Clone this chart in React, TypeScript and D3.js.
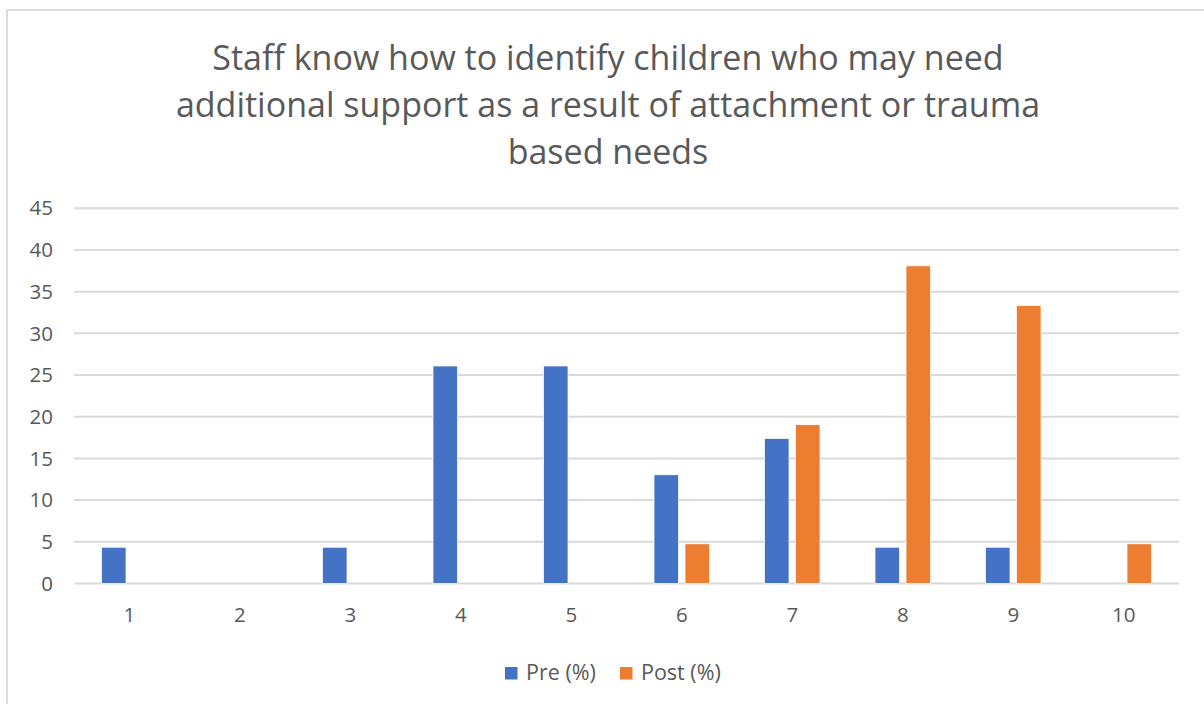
import React from "react";
import * as d3 from "d3";

const titleLines = [
  "Staff know how to identify children who may need",
  "additional support as a result of attachment or trauma",
  "based needs",
];
const categories = ["1", "2", "3", "4", "5", "6", "7", "8", "9", "10"];
const preValues = [4.35, 0, 4.35, 26.09, 26.09, 13.04, 17.39, 4.35, 4.35, 0];
const postValues = [0, 0, 0, 0, 0, 4.76, 19.05, 38.1, 33.33, 4.76];
const yTicks = [0, 5, 10, 15, 20, 25, 30, 35, 40, 45];
const seriesNames = ["Pre (%)", "Post (%)"];
const seriesColors = ["#4472C4", "#ED7D31"];

const W = 1204;
const H = 704;
const FONT = "'Open Sans', 'Noto Sans', sans-serif";
const TEXT = "#595959";

export default function App() {
  const plotLeft = 74;
  const plotRight = 1179;
  const plotTop = 208.3;
  const plotBottom = 583.5;

  const x = d3.scaleBand<string>().domain(categories).range([plotLeft, plotRight]).padding(0);
  const y = d3.scaleLinear().domain([0, 45]).range([plotBottom, plotTop]);

  const barW = 24.5;
  const innerGap = 6.5;
  const series = [preValues, postValues];

  return (
    <div style={{ position: "fixed", left: 0, top: 0, width: W, height: H, overflow: "hidden", background: "#fff" }}>
      <svg width={W} height={H} style={{ display: "block" }} fontFamily={FONT}>
        <rect x={0} y={0} width={W} height={H} fill="#fff" />
        <rect x={7} y={10} width={W + 20} height={H + 20} fill="#fff" stroke="#d9d9d9" strokeWidth={2} />
        {titleLines.map((t, i) => (
          <text key={i} x={608} y={70 + i * 47} textAnchor="middle" fontSize={34} fill={TEXT}>
            {t}
          </text>
        ))}
        {yTicks.map((t) => (
          <g key={t}>
            <line x1={plotLeft} x2={plotRight} y1={y(t)} y2={y(t)} stroke="#d9d9d9" strokeWidth={2} />
            <text x={53} y={y(t)} dy="0.35em" textAnchor="end" fontSize={20.5} fill={TEXT}>
              {t}
            </text>
          </g>
        ))}
        {categories.map((c, i) => {
          const cx = (x(c) as number) + x.bandwidth() / 2;
          return (
            <g key={c}>
              {series.map((vals, s) => {
                const v = vals[i];
                if (!v) return null;
                const bx = s === 0 ? cx - innerGap / 2 - barW : cx + innerGap / 2;
                return (
                  <rect
                    key={s}
                    x={bx}
                    y={y(v)}
                    width={barW}
                    height={plotBottom - y(v)}
                    fill={seriesColors[s]}
                    stroke="#fff"
                    strokeWidth={0.75}
                  />
                );
              })}
              <text x={cx} y={622} textAnchor="middle" fontSize={20.5} fill={TEXT}>
                {c}
              </text>
            </g>
          );
        })}
        {seriesNames.map((n, s) => {
          const lx = s === 0 ? 505 : 620;
          return (
            <g key={n}>
              <rect x={lx} y={667} width={12.5} height={12.5} fill={seriesColors[s]} />
              <text x={lx + 21} y={680} fontSize={21.5} fill={TEXT}>
                {n}
              </text>
            </g>
          );
        })}
      </svg>
    </div>
  );
}
